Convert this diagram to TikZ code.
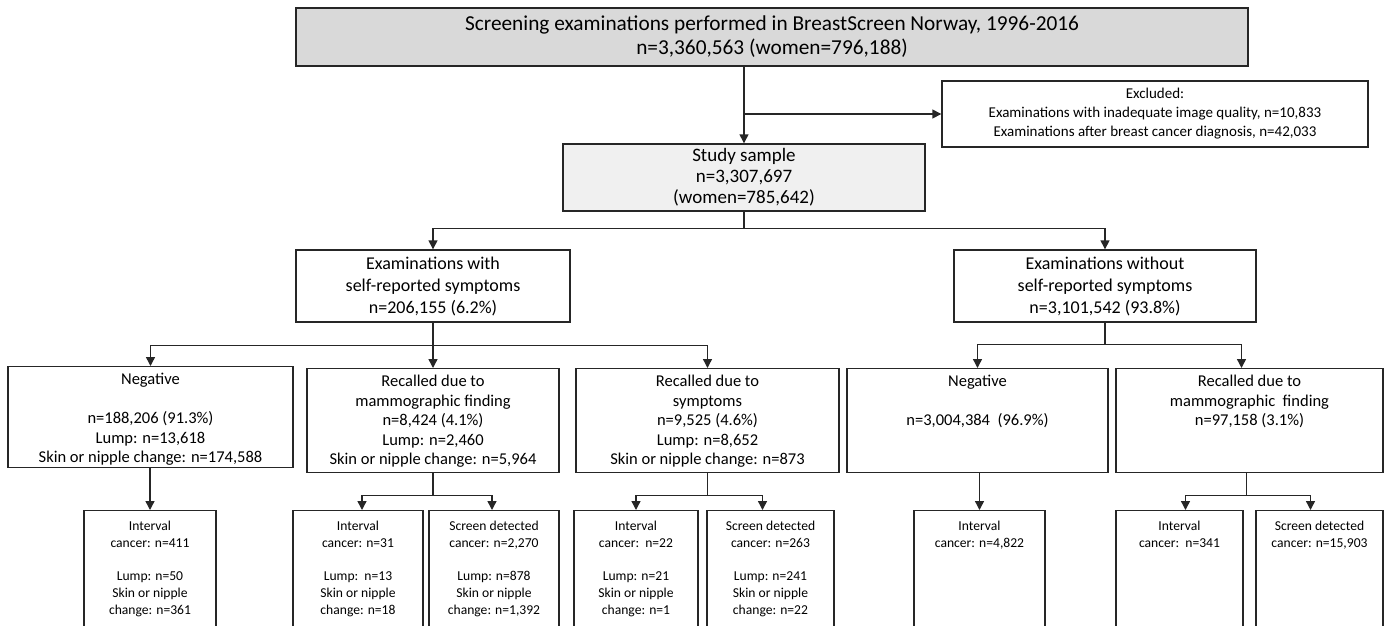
\documentclass[tikz,border=0pt]{standalone}
\usepackage{fontspec}
\setmainfont{Carlito}
\usetikzlibrary{arrows.meta}
\def\fonttop{\fontsize{21.3}{24}\selectfont}
\def\fontstudy{\fontsize{19}{21}\selectfont}
\def\fontexcl{\fontsize{15}{19}\selectfont}
\def\fontmid{\fontsize{18}{22}\selectfont}
\def\fontrow{\fontsize{16.5}{19.5}\selectfont}
\def\fontcell{\fontsize{13.6}{16.7}\selectfont}
\colorlet{box edge}{black!85}
\colorlet{main area}{black!15}
\colorlet{sample area}{black!6}
\tikzset{box/.style={draw=box edge, line width=1.4pt, inner sep=0pt, anchor=north},
    boxtext/.style={anchor=north, align=center, inner sep=0pt},
    link/.style={draw=box edge, line width=1.4pt},
    arrow/.style={link, -{Triangle[length=9pt, width=9pt]}}}

\begin{document}
\begin{tikzpicture}[x=1pt, y=-1pt]
    \path[use as bounding box, clip] (0,0) rectangle (1385,625);

    \node[box, anchor=center, fill=main area, minimum width=952, minimum height=58,
      font=\fonttop, align=center] (screening) at (772,37)
      {Screening examinations performed in BreastScreen Norway, 1996-2016\\
       n=3,360,563 (women=796,188)};
    \node[box, anchor=center, minimum width=426, minimum height=66,
      font=\fontexcl, align=center] (excluded) at (1155,114)
      {Excluded:\\ Examinations with inadequate image quality, n=10,833\\
       Examinations after breast cancer diagnosis, n=42,033};
    \node[box, anchor=center, fill=sample area, minimum width=362, minimum height=67,
      font=\fontstudy, align=center] (study) at (744,177.5)
      {Study sample\\ n=3,307,697\\ (women=785,642)};

    \node[box, anchor=center, minimum width=274, minimum height=72,
      font=\fontmid, align=center] (with) at (433,286)
      {Examinations with\\ self-reported symptoms\\ n=206,155 (6.2\%)};
    \node[box, anchor=center, minimum width=302, minimum height=72,
      font=\fontmid, align=center] (without) at (1105,286)
      {Examinations without\\ self-reported symptoms\\ n=3,101,542 (93.8\%)};

    \node[box, minimum width=285, minimum height=101] (neg1) at (150.5,366) {};
    \node[box, minimum width=252, minimum height=104] (mam1) at (433,368) {};
    \node[box, minimum width=263, minimum height=104] (sym1) at (707.5,368) {};
    \node[box, minimum width=261, minimum height=104] (neg2) at (977.5,368) {};
    \node[box, minimum width=267, minimum height=104] (mam2) at (1249.5,368) {};

    \node[boxtext, font=\fontrow] (neg1t) at ([yshift=-7]neg1.north)
      {Negative\\[19.5pt] n=188,206 (91.3\%)\\ Lump: n=13,618\\
       Skin or nipple change: n=174,588};
    \node[boxtext, font=\fontrow] (mam1t) at ([yshift=-7]mam1.north)
      {Recalled due to\\ mammographic finding\\ n=8,424 (4.1\%)\\ Lump: n=2,460\\
       Skin or nipple change: n=5,964};
    \node[boxtext, font=\fontrow] (sym1t) at ([yshift=-7]sym1.north)
      {Recalled due to\\ symptoms\\ n=9,525 (4.6\%)\\ Lump: n=8,652\\
       Skin or nipple change: n=873};
    \node[boxtext, font=\fontrow] (neg2t) at ([yshift=-7]neg2.north)
      {Negative\\[19.5pt] n=3,004,384\ \ (96.9\%)};
    \node[boxtext, font=\fontrow] (mam2t) at ([yshift=-7]mam2.north)
      {Recalled due to\\ mammographic\ \ finding\\ n=97,158 (3.1\%)};

    \node[box, minimum width=132, minimum height=130] (int1) at (150,510) {};
    \node[box, minimum width=130, minimum height=130] (int2) at (358,510) {};
    \node[box, minimum width=130, minimum height=130] (scr2) at (494,510) {};
    \node[box, minimum width=124, minimum height=130] (int3) at (636,510) {};
    \node[box, minimum width=127, minimum height=130] (scr3) at (770.5,510) {};
    \node[box, minimum width=131, minimum height=130] (int4) at (979.5,510) {};
    \node[box, minimum width=127, minimum height=130] (int5) at (1179.5,510) {};
    \node[box, minimum width=127, minimum height=130] (scr5) at (1319.5,510) {};

    \node[boxtext, font=\fontcell] (int1t) at ([yshift=-11]int1.north)
      {Interval\\ cancer: n=411\\[16.7pt] Lump: n=50\\ Skin or nipple\\ change: n=361};
    \node[boxtext, font=\fontcell] (int2t) at ([yshift=-11]int2.north)
      {Interval\\ cancer: n=31\\[16.7pt] Lump:\ \ n=13\\ Skin or nipple\\ change: n=18};
    \node[boxtext, font=\fontcell] (scr2t) at ([yshift=-11]scr2.north)
      {Screen detected\\ cancer: n=2,270\\[16.7pt] Lump: n=878\\ Skin or nipple\\
       change: n=1,392};
    \node[boxtext, font=\fontcell] (int3t) at ([yshift=-11]int3.north)
      {Interval\\ cancer:\ \ n=22\\[16.7pt] Lump: n=21\\ Skin or nipple\\ change: n=1};
    \node[boxtext, font=\fontcell] (scr3t) at ([yshift=-11]scr3.north)
      {Screen detected\\ cancer: n=263\\[16.7pt] Lump: n=241\\ Skin or nipple\\
       change: n=22};
    \node[boxtext, font=\fontcell] (int4t) at ([yshift=-11]int4.north)
      {Interval\\ cancer: n=4,822};
    \node[boxtext, font=\fontcell] (int5t) at ([yshift=-11]int5.north)
      {Interval\\ cancer:\ \ n=341};
    \node[boxtext, font=\fontcell] (scr5t) at ([yshift=-11]scr5.north)
      {Screen detected\\ cancer: n=15,903};

    \draw[arrow] (study.north |- screening.south) -- (study.north);
    \draw[arrow] (study.north |- excluded.west) -- (excluded.west);
    \draw[arrow] (study.south) -- ++(0,17) -| (with.north);
    \draw[arrow] (study.south) -- ++(0,17) -| (without.north);

    \draw[arrow] (with.south) -- ++(0,23) -| (neg1.north);
    \draw[arrow] (with.south) -- ++(0,23) -| (mam1.north);
    \draw[arrow] (with.south) -- ++(0,23) -| (sym1.north);
    \draw[arrow] (without.south) -- ++(0,22) -| (neg2.north);
    \draw[arrow] (without.south) -- ++(0,22) -| ([xshift=-8]mam2.north);

    \draw[arrow] (neg1.south -| int1.north) -- (int1.north);
    \draw[arrow] (mam1.south) -- ++(0,22) -| ([xshift=4]int2.north);
    \draw[arrow] (mam1.south) -- ++(0,22) -| ([xshift=-2]scr2.north);
    \draw[arrow] (sym1.south) -- ++(0,22) -| (int3.north);
    \draw[arrow] (sym1.south) -- ++(0,22) -| ([xshift=-8]scr3.north);
    \draw[arrow] (neg2.south -| int4.north) -- (int4.north);
    \draw[arrow] ([xshift=-3]mam2.south) -- ++(0,22) -| ([xshift=6]int5.north);
    \draw[arrow] ([xshift=-3]mam2.south) -- ++(0,22) -| ([xshift=-9]scr5.north);
\end{tikzpicture}
\end{document}
